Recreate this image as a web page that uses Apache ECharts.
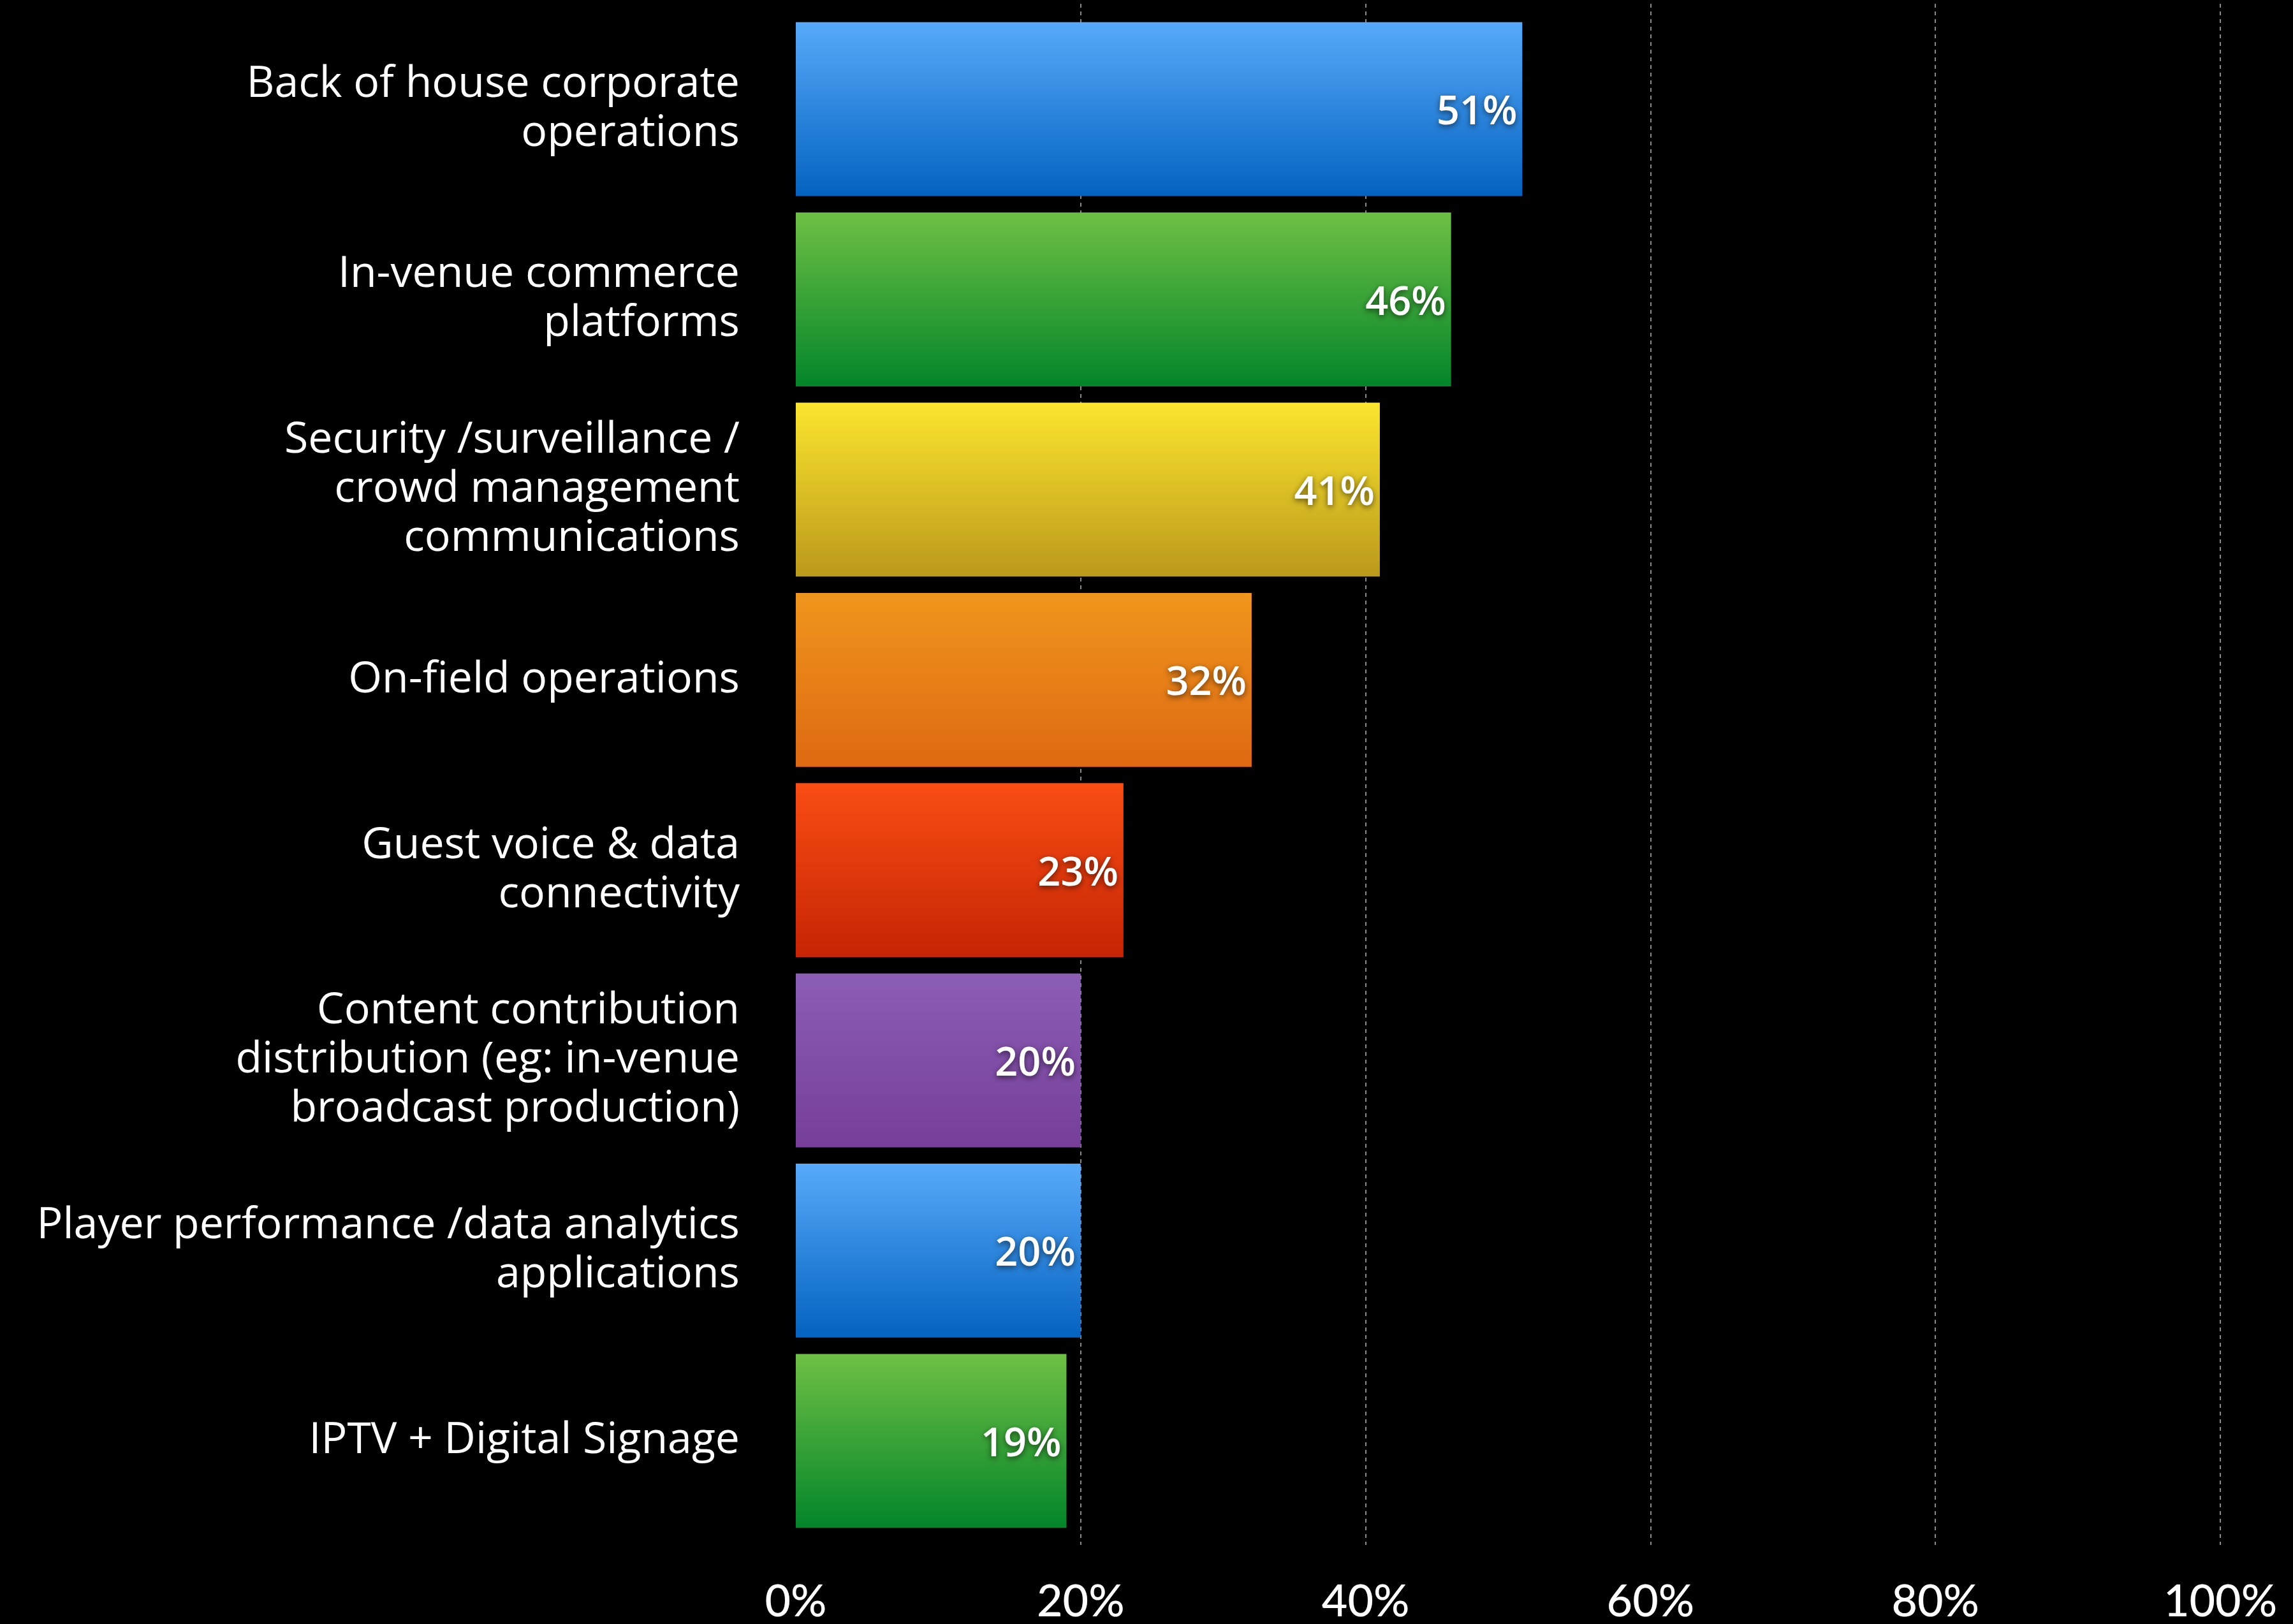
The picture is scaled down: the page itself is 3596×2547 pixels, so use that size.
<!DOCTYPE html>
<html>
<head>
<meta charset="utf-8">
<title>Stadium network priorities</title>
<script src="https://cdn.jsdelivr.net/npm/echarts@6/dist/echarts.min.js"></script>
<style>
  html, body { margin: 0; padding: 0; background: #000; }
  #chart { width: 3596px; height: 2547px; }
</style>
</head>
<body>
<div id="chart"></div>
<script>
// Categories, top to bottom
const categories = [
  'Back of house corporate\noperations',
  'In-venue commerce\nplatforms',
  'Security /surveillance /\ncrowd management\ncommunications',
  'On-field operations',
  'Guest voice & data\nconnectivity',
  'Content contribution\ndistribution (eg: in-venue\nbroadcast production)',
  'Player performance /data analytics\napplications',
  'IPTV + Digital Signage'
];

// Share of respondents, percent
const values = [51, 46, 41, 32, 23, 20, 20, 19];

// Axis ticks, percent
const tickValues = [0, 20, 40, 60, 80, 100];

// Bar fills: [top, bottom] of each vertical gradient
const barGradients = [
  ['#57AAFA', '#0462C0'],
  ['#6EC044', '#03852A'],
  ['#FCE52E', '#BA991B'],
  ['#F0961D', '#DE6912'],
  ['#FA4D14', '#C62404'],
  ['#8B5EB5', '#763E99'],
  ['#57AAFA', '#0462C0'],
  ['#6EC044', '#03852A']
];

const LABEL_FONT = '"Open Sans"';
const TICK_FONT = 'Lato';
const tickStep = tickValues[1] - tickValues[0];
const axisMin = tickValues[0];
const axisMax = tickValues[tickValues.length - 1];

const chart = echarts.init(document.getElementById('chart'));

const seriesData = values.map((v, i) => ({
  value: v,
  itemStyle: {
    color: new echarts.graphic.LinearGradient(0, 0, 0, 1, [
      { offset: 0, color: barGradients[i][0] },
      { offset: 1, color: barGradients[i][1] }
    ])
  }
}));

chart.setOption({
  backgroundColor: '#000000',
  animation: false,
  grid: [
    { left: 1248, right: 114, top: 22, bottom: 130, containLabel: false },
    { left: 1248, right: 114, top: 6, bottom: 124, containLabel: false }
  ],
  xAxis: [
    {
      type: 'value', gridIndex: 0,
      min: axisMin, max: axisMax, interval: tickStep,
      axisLine: { show: false }, axisTick: { show: false },
      splitLine: { show: false },
      axisLabel: {
        color: '#ffffff', fontFamily: TICK_FONT, fontSize: 70, fontWeight: 500,
        margin: 68, formatter: '{value}%'
      }
    },
    {
      // dashed reference lines reaching slightly past the bars
      type: 'value', gridIndex: 1,
      min: axisMin, max: axisMax, interval: tickStep,
      axisLine: { show: false }, axisTick: { show: false },
      axisLabel: { show: false },
      splitLine: {
        show: true,
        showMinLine: false,
        lineStyle: { color: '#8a8a8a', width: 2, type: [6, 6] }
      }
    }
  ],
  yAxis: [
    {
      type: 'category', gridIndex: 0, data: categories, inverse: true,
      axisLine: { show: false }, axisTick: { show: false },
      axisLabel: {
        color: '#ffffff', fontFamily: LABEL_FONT, fontSize: 68, lineHeight: 77,
        margin: 88, align: 'right'
      }
    },
    {
      type: 'category', gridIndex: 1, data: categories, inverse: true,
      show: false
    }
  ],
  series: [
    {
      type: 'bar',
      xAxisIndex: 0, yAxisIndex: 0,
      data: seriesData,
      barCategoryGap: '8.6%',
      z: 3,
      label: {
        show: true,
        position: 'insideRight',
        distance: 8,
        offset: [0, 6],
        formatter: '{c}%',
        color: '#ffffff',
        fontFamily: LABEL_FONT,
        fontSize: 63,
        fontWeight: 600,
        textShadowColor: 'rgba(0,0,0,0.6)',
        textShadowBlur: 10,
        textShadowOffsetY: 3
      }
    }
  ]
});
</script>
</body>
</html>
